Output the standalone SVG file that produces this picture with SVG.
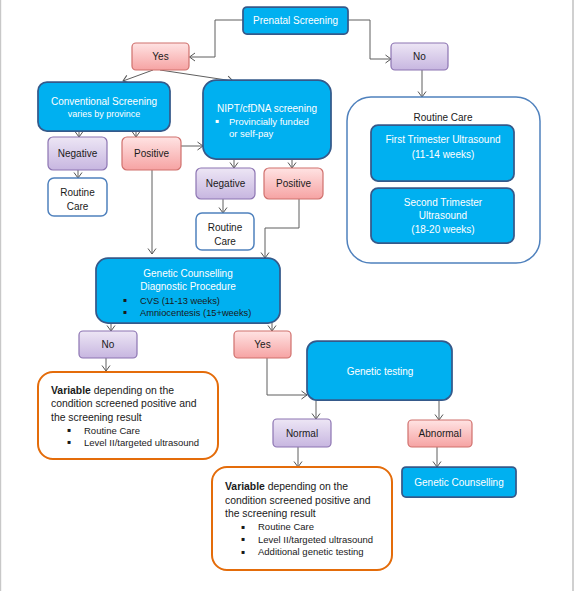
<svg xmlns="http://www.w3.org/2000/svg" width="574" height="591" viewBox="0 0 574 591">
<defs>
<linearGradient id="gPink" x1="0" y1="0" x2="0" y2="1"><stop offset="0" stop-color="#FFE3E3"/><stop offset="1" stop-color="#F6A3A3"/></linearGradient>
<linearGradient id="gPurple" x1="0" y1="0" x2="0" y2="1"><stop offset="0" stop-color="#EDE6F5"/><stop offset="1" stop-color="#C7B6E0"/></linearGradient>
<marker id="arr" markerUnits="userSpaceOnUse" markerWidth="10" markerHeight="10" viewBox="0 0 10 10" refX="8" refY="5" orient="auto"><path d="M2.5,1 L8,5 L2.5,9" fill="none" stroke="#555" stroke-width="1"/></marker>
<style>
text{font-family:"Liberation Sans",Arial,sans-serif;font-size:10px;fill:#1a1a1a}
.w{fill:#fff}
.c{text-anchor:middle}
.blue{fill:#00B0F0;stroke:#35598A;stroke-width:1.75}
.pink{fill:url(#gPink);stroke:#D0706D;stroke-width:1.2}
.purple{fill:url(#gPurple);stroke:#8C74B2;stroke-width:1.2}
.rc{fill:#fff;stroke:#4F81BD;stroke-width:1.5}
.var{fill:#fff;stroke:#E46C0A;stroke-width:2}
.s9{font-size:9px}
.s95{font-size:9.5px}
.b{font-family:"DejaVu Sans",sans-serif;font-size:6px}
#connectors path{fill:none;stroke:#5F5F5F;stroke-width:1;marker-end:url(#arr)}
</style>
</defs>
<rect x="0" y="0" width="574" height="591" fill="#fff"/>
<rect x="0" y="0" width="1.2" height="591" fill="#C8C8C8"/>
<rect x="572" y="0" width="2" height="591" fill="#D0D0D0"/>

<g id="connectors">
<path d="M243,20 H215 V57 H189.5"/>
<path d="M348,20 H370 V59 H391"/>
<path d="M422,70 V97"/>
<path d="M153,70 L123,81"/>
<path d="M160,70 L233,81"/>
<path d="M79,131 V137"/>
<path d="M136,131 V137"/>
<path d="M181,146 H203"/>
<path d="M78,170 V178"/>
<path d="M152,170 V254"/>
<path d="M234,159 V168"/>
<path d="M292,159 V168"/>
<path d="M223,199 V213"/>
<path d="M299,199 V228 H265 V258"/>
<path d="M111,323 V331"/>
<path d="M272,323 V331"/>
<path d="M106,358 V371"/>
<path d="M267,358 V395 H307"/>
<path d="M316,400 V419"/>
<path d="M439,400 V420"/>
<path d="M298,447 V467"/>
<path d="M437,447 V467"/>
</g>

<g id="prenatal"><rect class="blue" x="243" y="7" width="105" height="27" rx="4"/><text class="w c" x="295.5" y="24">Prenatal Screening</text></g>
<g id="yes1"><rect class="pink" x="132" y="43" width="57" height="27" rx="4"/><text class="c" x="160.5" y="60">Yes</text></g>
<g id="no1"><rect class="purple" x="391" y="43" width="57" height="27" rx="4"/><text class="c" x="419.5" y="60">No</text></g>

<g id="routineCareGroup"><rect class="rc" x="347" y="97" width="193" height="166" rx="24"/><text class="c" x="443" y="120.5">Routine Care</text></g>
<g id="firstTri"><rect class="blue" x="371" y="125" width="143" height="56" rx="7"/><text class="w c" x="443" y="142.5">First Trimester Ultrasound</text><text class="w c" x="443" y="157.5">(11-14 weeks)</text></g>
<g id="secondTri"><rect class="blue" x="371" y="188" width="143" height="55" rx="7"/><text class="w c" x="443" y="205.5">Second Trimester</text><text class="w c" x="443" y="218.5">Ultrasound</text><text class="w c" x="443" y="232.5">(18-20 weeks)</text></g>

<g id="conventional"><rect class="blue" x="38" y="82" width="132" height="49" rx="9"/><text class="w c" x="104" y="104.5">Conventional Screening</text><text class="w c s9" x="104" y="117">varies by province</text></g>
<g id="nipt"><rect class="blue" x="203" y="80" width="128" height="79" rx="13"/><text class="w c" x="267" y="111.5">NIPT/cfDNA screening</text><text class="w b" x="215" y="123">▪</text><text class="w s95" x="229" y="124.5">Provincially funded</text><text class="w s95" x="229" y="136.5">or self-pay</text></g>

<g id="neg1"><rect class="purple" x="48" y="137" width="59" height="33" rx="5"/><text class="c" x="77.5" y="157">Negative</text></g>
<g id="pos1"><rect class="pink" x="122" y="137" width="59" height="33" rx="5"/><text class="c" x="151.5" y="157">Positive</text></g>
<g id="rc1"><rect class="rc" x="48" y="178" width="59" height="38" rx="6"/><text class="c" x="77.5" y="195.5">Routine</text><text class="c" x="77.5" y="209.5">Care</text></g>

<g id="neg2"><rect class="purple" x="196" y="168" width="59" height="31" rx="5"/><text class="c" x="225.5" y="187">Negative</text></g>
<g id="pos2"><rect class="pink" x="264" y="168" width="59" height="31" rx="5"/><text class="c" x="293.5" y="187">Positive</text></g>
<g id="rc2"><rect class="rc" x="196" y="213" width="58" height="37" rx="6"/><text class="c" x="225" y="230.5">Routine</text><text class="c" x="225" y="244.5">Care</text></g>

<g id="gcDiag"><rect class="blue" x="96" y="258" width="184" height="65" rx="12"/><text class="w c" x="188" y="276.5">Genetic Counselling</text><text class="w c" x="188" y="289.5">Diagnostic Procedure</text><text class="b" x="123" y="302">▪</text><text class="s95" x="140" y="303.5" style="font-size:9.3px">CVS (11-13 weeks)</text><text class="b" x="123" y="314">▪</text><text x="140" y="315.5" style="font-size:9.3px">Amniocentesis (15+weeks)</text></g>

<g id="no2"><rect class="purple" x="79" y="331" width="58" height="27" rx="4"/><text class="c" x="108" y="348">No</text></g>
<g id="yes2"><rect class="pink" x="234" y="331" width="57" height="27" rx="4"/><text class="c" x="262.5" y="348">Yes</text></g>

<g id="variable1"><rect class="var" x="38" y="372" width="180" height="87" rx="15"/>
<text x="51" y="394" style="font-size:10.4px"><tspan font-weight="bold">Variable</tspan> depending on the</text>
<text x="51" y="407" style="font-size:10.4px">condition screened positive and</text>
<text x="51" y="421" style="font-size:10.4px">the screening result</text>
<text class="b" x="67" y="432">▪</text><text class="s95" x="84" y="433.5">Routine Care</text>
<text class="b" x="67" y="444">▪</text><text class="s95" x="84" y="445.5">Level II/targeted ultrasound</text></g>

<g id="genTesting"><rect class="blue" x="307" y="341" width="145" height="59" rx="10"/><text class="w c" x="380" y="374.5">Genetic testing</text></g>
<g id="normal"><rect class="purple" x="273" y="419" width="58" height="28" rx="4"/><text class="c" x="302" y="436.5">Normal</text></g>
<g id="abnormal"><rect class="pink" x="408" y="420" width="64" height="27" rx="4"/><text class="c" x="440" y="437">Abnormal</text></g>
<g id="gc2"><rect class="blue" x="402" y="467" width="114" height="30" rx="4"/><text class="w c" x="459" y="486">Genetic Counselling</text></g>

<g id="variable2"><rect class="var" x="212" y="467" width="180" height="103" rx="15"/>
<text x="225" y="490" style="font-size:10.4px"><tspan font-weight="bold">Variable</tspan> depending on the</text>
<text x="225" y="504" style="font-size:10.4px">condition screened positive and</text>
<text x="225" y="517" style="font-size:10.4px">the screening result</text>
<text class="b" x="241" y="529">▪</text><text class="s95" x="258" y="530">Routine Care</text>
<text class="b" x="241" y="541">▪</text><text class="s95" x="258" y="542.5">Level II/targeted ultrasound</text>
<text class="b" x="241" y="554">▪</text><text class="s95" x="258" y="555">Additional genetic testing</text></g>
</svg>
